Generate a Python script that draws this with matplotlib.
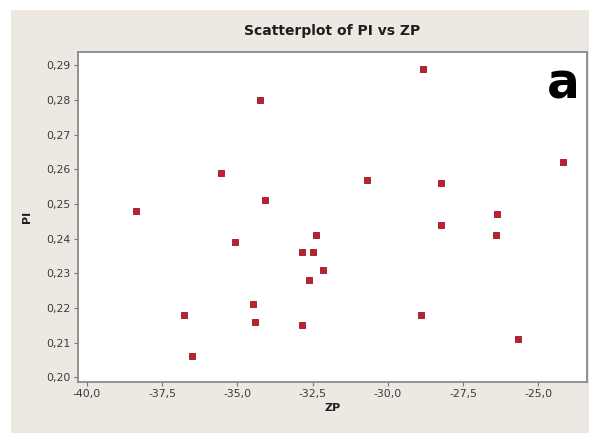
import numpy as np
import matplotlib
matplotlib.use("Agg")
import matplotlib.pyplot as plt
from matplotlib.patches import Rectangle
from matplotlib.ticker import FuncFormatter

# ZP (x) and PI (y)
zp = [-38.36, -36.77, -36.49, -35.55, -35.07, -34.24, -34.08, -34.49, -34.40,
      -32.86, -32.47, -32.39, -32.61, -32.15, -32.86, -30.68, -28.82, -28.89,
      -28.24, -28.24, -26.36, -26.42, -25.68, -24.17]
pi = [0.248, 0.218, 0.206, 0.259, 0.239, 0.280, 0.251, 0.221, 0.216,
      0.236, 0.236, 0.241, 0.228, 0.231, 0.215, 0.257, 0.289, 0.218,
      0.256, 0.244, 0.247, 0.241, 0.211, 0.262]

x_ticks = [-40.0, -37.5, -35.0, -32.5, -30.0, -27.5, -25.0]
y_ticks = [0.20, 0.21, 0.22, 0.23, 0.24, 0.25, 0.26, 0.27, 0.28, 0.29]

W, H = 589, 433
fig = plt.figure(figsize=(W / 100, H / 100), dpi=100, facecolor="white")
fig.patches.append(Rectangle((11 / W, 0), 1, 1 - 10 / H, transform=fig.transFigure,
                             facecolor="#ede8e2", edgecolor="none", zorder=-10))

ax = fig.add_axes([77.5 / W, 1 - 382 / H, (587 - 77.5) / W, (382 - 52) / H])
ax.set_facecolor("white")
ax.scatter(zp, pi, marker="s", s=16, color="#c0202c", edgecolors="#8e1a2a",
           linewidths=0.6, zorder=3)

ax.set_xlim(-40.31, -23.38)
ax.set_ylim(0.19864, 0.29384)
ax.set_xticks(x_ticks)
ax.set_yticks(y_ticks)
ax.xaxis.set_major_formatter(FuncFormatter(lambda v, p: f"{v:.1f}".replace(".", ",")))
ax.yaxis.set_major_formatter(FuncFormatter(lambda v, p: f"{v:.2f}".replace(".", ",")))
ax.tick_params(direction="out", length=3, width=0.8, color="#777777",
               labelsize=7.8, labelcolor="#3a3a3a", pad=2)
for s in ax.spines.values():
    s.set_color("#8a8a8a")
    s.set_linewidth(1.3)

ax.set_title("Scatterplot of PI vs ZP", fontsize=10, fontweight="bold",
             color="#1e1e1e", pad=12)
ax.set_xlabel("ZP", fontsize=8, fontweight="bold", color="#1e1e1e", labelpad=3)
ax.set_ylabel("PI", fontsize=8, fontweight="bold", color="#1e1e1e", labelpad=10)

ax.text(0.985, 0.975, "a", transform=ax.transAxes, ha="right", va="top",
        fontsize=35, fontweight="heavy", family="DejaVu Sans", color="black")

fig.savefig("out.png", dpi=100, facecolor=fig.get_facecolor())
